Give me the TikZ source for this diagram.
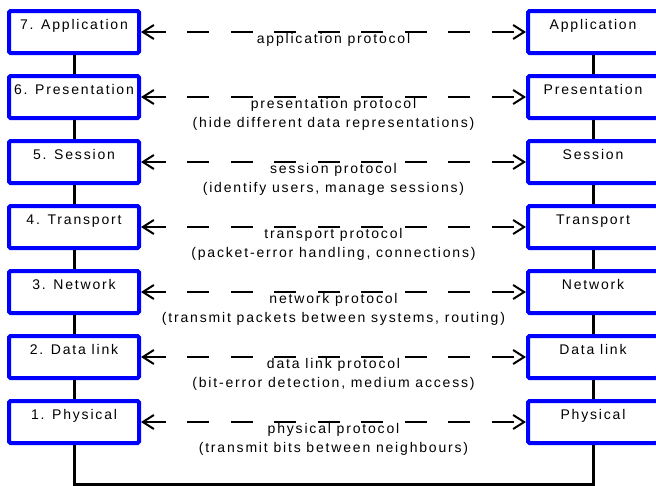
\documentclass[tikz,border=0pt]{standalone}
\usepackage{fontspec}
\setmainfont{Liberation Sans}[LetterSpace=13]
\usetikzlibrary{arrows.meta,calc}
\definecolor{layerblue}{RGB}{0,0,255}

\begin{document}
\begin{tikzpicture}[x=1pt,y=-1pt,
  layerbox/.style={draw=layerblue, line width=4pt, rounded corners=1.5pt,
    fill=white, minimum width=130pt, inner xsep=0pt, inner ysep=0pt,
    text height=18pt, text depth=24pt, font=\fontsize{14}{16}\selectfont},
  stack/.style={line width=3pt, black},
  peerlink/.style={line width=2pt, dash pattern=on 22pt off 21.5pt,
    {Straight Barb[length=11pt,width=14pt]}-{Straight Barb[length=11pt,width=14pt]}},
  % base anchor of a two-line label sits on its second line
  proto/.style={align=center, inner sep=0pt, anchor=base,
    font=\fontsize{14}{19.5}\selectfont}]

\useasboundingbox (0,0) rectangle (656,485);

% protocol stacks on both end systems
\foreach \k/\name in {7/Application,6/Presentation,5/Session,4/Transport,3/Network,2/Data link,1/Physical}{
  \node[layerbox] (L\k) at (74,{32+65*(7-\k)}) {\k. \name};
  \node[layerbox] (R\k) at (593,{32+65*(7-\k)}) {\name};
}

% vertical connections between adjacent layers
\foreach \a/\b in {7/6,6/5,5/4,4/3,3/2,2/1}{
  \draw[stack] (L\a) -- (L\b);
  \draw[stack] (R\a) -- (R\b);
}

% physical medium joining the two stacks
\coordinate (bl) at (74,484);
\coordinate (br) at (593,484);
\draw[stack] (L1) -- (bl) -- (br) -- (R1);

% peer-to-peer protocols
\foreach \k in {7,...,1}{
  \draw[peerlink] (L\k) -- (R\k);
}
\node[proto] (p7) at ($(L7.east)!0.5!(R7.west)+(0,11)$) {application protocol};
\node[proto] (p6) at ($(L6.east)!0.5!(R6.west)+(0,30.5)$) {presentation protocol\\(hide different data representations)};
\node[proto] (p5) at ($(L5.east)!0.5!(R5.west)+(0,30.5)$) {session protocol\\(identify users, manage sessions)};
\node[proto] (p4) at ($(L4.east)!0.5!(R4.west)+(0,30.5)$) {transport protocol\\(packet-error handling, connections)};
\node[proto] (p3) at ($(L3.east)!0.5!(R3.west)+(0,30.5)$) {network protocol\\(transmit packets between systems, routing)};
\node[proto] (p2) at ($(L2.east)!0.5!(R2.west)+(0,30.5)$) {data link protocol\\(bit-error detection, medium access)};
\node[proto] (p1) at ($(L1.east)!0.5!(R1.west)+(0,30.5)$) {physical protocol\\(transmit bits between neighbours)};
\end{tikzpicture}
\end{document}
